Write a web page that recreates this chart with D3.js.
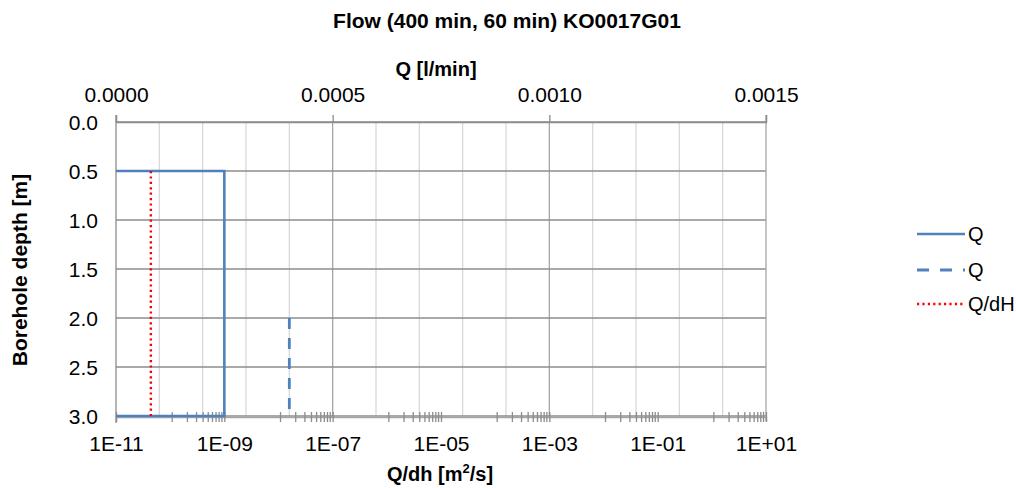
<!DOCTYPE html>
<html>
<head>
<meta charset="utf-8">
<script src="https://cdn.jsdelivr.net/npm/d3@7/dist/d3.min.js"></script>
<style>
  html, body { margin: 0; padding: 0; background: #fff; }
  svg { display: block; font-family: "Liberation Sans", Arial, sans-serif; }
</style>
</head>
<body>
<svg id="chart" width="1016" height="488"></svg>
<script>
// ---- data ----
const titleText = "Flow (400 min, 60 min) KO0017G01";
const topAxisTitle = "Q [l/min]";
const leftAxisTitle = "Borehole depth [m]";

// Q (solid), on top axis [l/min]
const qSolidDepth = [0.5, 0.5, 3.0, 3.0];
const qSolidValue = [0, 0.00025, 0.00025, 0];
// Q (dashed), on top axis [l/min]
const qDashDepth = [2.0, 3.0];
const qDashValue = [0.0004, 0.0004];
// Q/dH (dotted), on bottom log axis [m2/s]
const qdhDepth = [0.5, 3.0];
const qdhValue = [4.4e-11, 4.4e-11];

const legendLabels = ["Q", "Q", "Q/dH"];

const topTicks = [0, 0.0005, 0.0010, 0.0015];
const topGridStep = 0.0001;
const bottomTicks = [1e-11, 1e-9, 1e-7, 1e-5, 1e-3, 1e-1, 1e1];
const bottomTickLabels = ["1E-11", "1E-09", "1E-07", "1E-05", "1E-03", "1E-01", "1E+01"];
const depthTicks = [0, 0.5, 1.0, 1.5, 2.0, 2.5, 3.0];

// ---- layout ----
const L = 116, R = 766, T = 122, B = 416;
const blue = "#4f81bd", red = "#ff0000";
const svg = d3.select("#chart");

const y = d3.scaleLinear().domain([0, 3]).range([T, B]);
const xTop = d3.scaleLinear().domain([0, 0.0015]).range([L, R]);
const xBot = d3.scaleLog().domain([1e-11, 1e1]).range([L, R]);

// minor gridlines of top axis
const gridVals = d3.range(1, 15).map(i => i * topGridStep);
svg.append("g").selectAll("line").data(gridVals).join("line")
  .attr("x1", d => xTop(d)).attr("x2", d => xTop(d))
  .attr("y1", T).attr("y2", B)
  .attr("stroke", (d, i) => ((i + 1) % 5 === 0) ? "#a6a6a6" : "#d9d9d9")
  .attr("stroke-width", 1.3);

// horizontal gridlines
svg.append("g").selectAll("line").data(depthTicks).join("line")
  .attr("x1", L).attr("x2", R)
  .attr("y1", d => y(d)).attr("y2", d => y(d))
  .attr("stroke", "#8c8c8c").attr("stroke-width", 1.3);

// right border
svg.append("line").attr("x1", R).attr("x2", R).attr("y1", T - 7).attr("y2", B + 5)
  .attr("stroke", "#a6a6a6").attr("stroke-width", 1.3);

// top axis
const gTop = svg.append("g").attr("transform", `translate(0,${T})`)
  .call(d3.axisTop(xTop).tickValues(topTicks).tickFormat(d3.format(".4f")).tickSize(7).tickPadding(13));
gTop.select(".domain").attr("stroke", "#8c8c8c").attr("stroke-width", 1.3);
gTop.selectAll(".tick line").attr("stroke", "#8c8c8c").attr("stroke-width", 1.3);
gTop.selectAll(".tick text").attr("font-size", 21).attr("fill", "#000");

// left axis
const gLeft = svg.append("g").attr("transform", `translate(${L},0)`)
  .call(d3.axisLeft(y).tickValues(depthTicks).tickFormat(d3.format(".1f")).tickSize(0).tickPadding(18));
gLeft.select(".domain").remove();
gLeft.selectAll(".tick text").attr("font-size", 21).attr("fill", "#000").attr("dy", "0.37em");
svg.append("line").attr("x1", L).attr("x2", L).attr("y1", T - 7).attr("y2", B + 7)
  .attr("stroke", "#8c8c8c").attr("stroke-width", 1.3);

// bottom axis (log), major + minor cross ticks
const minorVals = [];
for (let i = 0; i < bottomTicks.length - 1; i++) {
  const lo = bottomTicks[i], hi = bottomTicks[i + 1];
  for (let k = 1; k < 10; k++) minorVals.push(lo + k * (hi - lo) / 10);
}
const gBot = svg.append("g").attr("transform", `translate(0,${B + 1})`)
  .call(d3.axisBottom(xBot).tickValues(bottomTicks).tickFormat((d, i) => bottomTickLabels[i]).tickSize(5).tickPadding(14));
gBot.select(".domain").attr("stroke", "#a6a6a6").attr("stroke-width", 1.3);
gBot.selectAll(".tick line").attr("y1", -5).attr("stroke", "#8c8c8c").attr("stroke-width", 1.3);
gBot.selectAll(".tick text").attr("font-size", 21).attr("fill", "#000");
gBot.append("g").selectAll("line").data(minorVals).join("line")
  .attr("x1", d => xBot(d)).attr("x2", d => xBot(d))
  .attr("y1", -5).attr("y2", 5)
  .attr("stroke", "#8c8c8c").attr("stroke-width", 1.3);

// ---- series ----
const lineTop = d3.line().x(d => xTop(d[0])).y(d => y(d[1]));
const lineBot = d3.line().x(d => xBot(d[0])).y(d => y(d[1]));

svg.append("path")
  .datum(qSolidValue.map((v, i) => [v, qSolidDepth[i]]))
  .attr("d", lineTop).attr("fill", "none").attr("stroke", blue).attr("stroke-width", 2.6);

svg.append("path")
  .datum(qDashValue.map((v, i) => [v, qDashDepth[i]]))
  .attr("d", lineTop).attr("fill", "none").attr("stroke", blue).attr("stroke-width", 2.8)
  .attr("stroke-dasharray", "11 9");

svg.append("path")
  .datum(qdhValue.map((v, i) => [v, qdhDepth[i]]))
  .attr("d", lineBot).attr("fill", "none").attr("stroke", red).attr("stroke-width", 2.4)
  .attr("stroke-dasharray", "2.2 3.2");

// ---- titles ----
svg.append("text").attr("x", 507).attr("y", 28).attr("text-anchor", "middle")
  .attr("font-size", 21).attr("font-weight", "bold").attr("fill", "#000").text(titleText);
svg.append("text").attr("x", 436).attr("y", 76).attr("text-anchor", "middle")
  .attr("font-size", 20).attr("font-weight", "bold").attr("fill", "#000").text(topAxisTitle);
svg.append("text").attr("transform", "translate(27,270) rotate(-90)").attr("text-anchor", "middle")
  .attr("font-size", 21).attr("font-weight", "bold").attr("fill", "#000").text(leftAxisTitle);
const bt = svg.append("text").attr("x", 440).attr("y", 481).attr("text-anchor", "middle")
  .attr("font-size", 20).attr("font-weight", "bold").attr("fill", "#000");
bt.append("tspan").text("Q/dh [m");
bt.append("tspan").attr("font-size", 13).attr("dy", -8).text("2");
bt.append("tspan").attr("dy", 8).text("/s]");

// ---- legend ----
const legY = [234, 270, 304];
const legStyles = [
  { stroke: blue, dash: null, w: 2.6 },
  { stroke: blue, dash: "12 11", w: 2.8 },
  { stroke: red, dash: "2.2 3.2", w: 2.4 }
];
const leg = svg.append("g");
legendLabels.forEach((lab, i) => {
  leg.append("line").attr("x1", 917).attr("x2", 965).attr("y1", legY[i]).attr("y2", legY[i])
    .attr("stroke", legStyles[i].stroke).attr("stroke-width", legStyles[i].w)
    .attr("stroke-dasharray", legStyles[i].dash);
  leg.append("text").attr("x", 968).attr("y", legY[i] + 7).attr("font-size", 20).attr("fill", "#000").text(lab);
});
</script>
</body>
</html>
